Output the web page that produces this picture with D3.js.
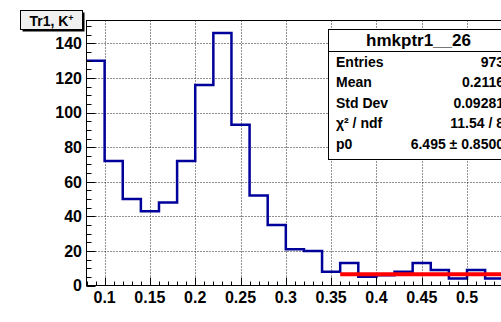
<!DOCTYPE html>
<html>
<head>
<meta charset="utf-8">
<script src="https://cdn.jsdelivr.net/npm/d3@7"></script>
<style>
  body { margin: 0; background: #fff; }
  svg { display: block; font-family: "Liberation Sans", Arial, sans-serif; }
</style>
</head>
<body>
<div id="chart"></div>
<script>
// histogram hmkptr1__26, bins of 0.02 starting at 0.08
const binStart = 0.08;
const binWidth = 0.02;
const counts = [130, 72, 50, 43, 48, 72, 116, 146, 93, 52, 35, 21, 20, 8, 13, 5, 6, 8, 13, 9, 4, 9, 4, 5];
const xTicks = [0.1, 0.15, 0.2, 0.25, 0.3, 0.35, 0.4, 0.45, 0.5, 0.55];
const xLabels = ['0.1', '0.15', '0.2', '0.25', '0.3', '0.35', '0.4', '0.45', '0.5'];
const yTicks = [0, 20, 40, 60, 80, 100, 120, 140];
const fitRange = [0.36, 0.6];
const fitValue = 6.495;
const statLabels = ['Entries', 'Mean', 'Std Dev', 'χ² / ndf', 'p0'];
const statValues = ['973', '0.2116', '0.09281', '11.54 / 8', '6.495 ± 0.8500'];

const W = 501, H = 322;
const margin = { top: 20.5, left: 86.5, bottom: 36.5 };
const xMax = 0.6;

const svg = d3.select('#chart').append('svg')
    .attr('width', W)
    .attr('height', H);

const x = d3.scaleLinear().domain([binStart, xMax]).range([margin.left, margin.left + (xMax - binStart) * 906]);
const y = d3.scaleLinear().domain([0, d3.max(counts) * 1.05]).range([H - margin.bottom, margin.top]);

const x1 = x.range()[1];
const y0 = y(0), yTop = y.range()[1];

// grid
const grid = svg.append('g')
    .attr('stroke', '#222')
    .attr('stroke-width', 1)
    .attr('stroke-dasharray', '1,2');
xTicks.forEach(t => {
    grid.append('line').attr('x1', Math.round(x(t)) + 0.5).attr('x2', Math.round(x(t)) + 0.5)
        .attr('y1', yTop).attr('y2', y0);
});
yTicks.filter(t => t > 0).forEach(t => {
    grid.append('line').attr('x1', margin.left).attr('x2', x1)
        .attr('y1', Math.round(y(t)) + 0.5).attr('y2', Math.round(y(t)) + 0.5);
});

// histogram outline
const pts = counts.map((c, i) => [binStart + i * binWidth, c]);
pts.push([binStart + counts.length * binWidth, counts[counts.length - 1]]);
const step = d3.line().curve(d3.curveStepAfter).x(d => x(d[0])).y(d => y(d[1]));
svg.append('path')
    .attr('d', step(pts))
    .attr('fill', 'none')
    .attr('stroke', '#00009a')
    .attr('stroke-width', 2.5);

// fit
svg.append('line')
    .attr('x1', x(fitRange[0])).attr('x2', x(fitRange[1]))
    .attr('y1', y(fitValue)).attr('y2', y(fitValue))
    .attr('stroke', '#ff0000')
    .attr('stroke-width', 4);

// frame
svg.append('rect')
    .attr('x', margin.left).attr('y', yTop)
    .attr('width', x1 - margin.left).attr('height', y0 - yTop)
    .attr('fill', 'none')
    .attr('stroke', '#000');

// y ticks (inside)
const yAx = svg.append('g').attr('stroke', '#000');
d3.range(0, y.domain()[1], 5).forEach(v => {
    const yy = Math.round(y(v)) + 0.5;
    yAx.append('line').attr('x1', margin.left).attr('x2', margin.left + (v % 20 === 0 ? 9 : 5))
        .attr('y1', yy).attr('y2', yy);
});
svg.append('g').selectAll('text')
    .data(yTicks).join('text')
    .attr('x', 82)
    .attr('y', d => y(d))
    .attr('dy', '0.36em')
    .attr('text-anchor', 'end')
    .attr('font-size', 16)
    .attr('font-weight', 'bold')
    .text(d => d);

// x ticks (inside)
const xAx = svg.append('g').attr('stroke', '#000');
d3.range(0, 60).map(i => +(0.08 + i * 0.01).toFixed(2)).filter(v => v <= xMax).forEach(v => {
    const xx = Math.round(x(v)) + 0.5;
    const major = Math.abs(v * 100 % 5) < 1e-6 || Math.abs(v * 100 % 5 - 5) < 1e-6;
    xAx.append('line').attr('x1', xx).attr('x2', xx)
        .attr('y1', y0).attr('y2', y0 - (major ? 8 : 4));
});
svg.append('g').selectAll('text')
    .data(xLabels).join('text')
    .attr('x', d => x(+d))
    .attr('y', 303)
    .attr('text-anchor', 'middle')
    .attr('font-size', 16)
    .attr('font-weight', 'bold')
    .text(d => d);

// title box
const tb = svg.append('g');
tb.append('rect').attr('x', 22.5).attr('y', 12.5).attr('width', 62).attr('height', 19).attr('fill', '#000');
tb.append('rect').attr('x', 20.5).attr('y', 10.5).attr('width', 62).attr('height', 19)
    .attr('fill', '#f0f0f0').attr('stroke', '#000');
const tt = tb.append('text').attr('x', 51.5).attr('y', 25.5).attr('text-anchor', 'middle')
    .attr('font-size', 14).attr('font-weight', 'bold');
tt.append('tspan').text('Tr1, K');
tt.append('tspan').attr('dy', -5).attr('font-size', 9).text('+');

// stats box
const sb = svg.append('g');
const sx = 328.5, sy = 29.5, sw = 180, sh = 130;
sb.append('rect').attr('x', sx).attr('y', sy).attr('width', sw).attr('height', sh)
    .attr('fill', '#fff').attr('stroke', '#000');
sb.append('line').attr('x1', sx).attr('x2', sx + sw).attr('y1', 51.5).attr('y2', 51.5).attr('stroke', '#000');
sb.append('text').attr('x', sx + sw / 2).attr('y', 46).attr('text-anchor', 'middle')
    .attr('font-size', 17).attr('font-weight', 'bold').text('hmkptr1__26');
const rowY = d3.scaleLinear().domain([0, 4]).range([61.7, 144]);
statLabels.forEach((l, i) => {
    sb.append('text').attr('x', 336).attr('y', rowY(i)).attr('dy', '0.36em')
        .attr('font-size', 14).attr('font-weight', 'bold').text(l);
    sb.append('text').attr('x', 504).attr('y', rowY(i)).attr('dy', '0.36em').attr('text-anchor', 'end')
        .attr('font-size', 14).attr('font-weight', 'bold').text(statValues[i]);
});
</script>
</body>
</html>
